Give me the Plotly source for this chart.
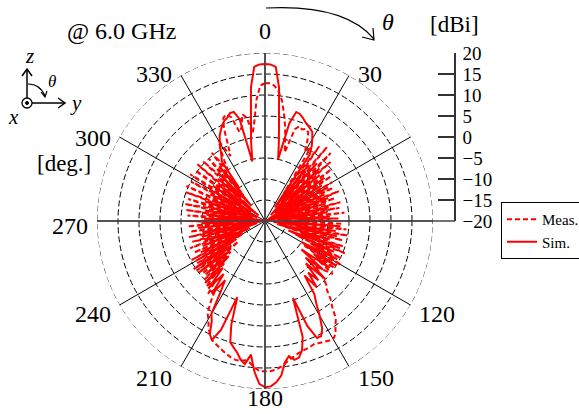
import math
import plotly.graph_objects as go

# ---------------- data ----------------
theta_deg = list(range(0, 360, 2))  # sample angles, deg (clockwise from +z)

sim_dbi = [
    17.4, 17.3, 16.8, 12.0, 4.0, -1.0, -5.0, 4.0, 7.0, 6.8,          # 0-18
    6.2, 5.5, 5.0, 4.5, 4.0, 2.5, 1.0, -1.0, -16.0, -3.0,            # 20-38
    -14.0, -1.5, -18.0, -2.0, -12.0, -3.0, -17.0, -2.5, -14.0, -4.0, # 40-58
    -19.0, -3.0, -15.0, -4.5, -18.0, -4.0, -13.0, -5.0, -20.0, -4.5, # 60-78
    -14.0, -5.0, -17.0, -4.5, -12.0, -5.0, -15.0, -2.0, -18.0, -3.0, # 80-98
    -12.0, -2.5, -17.0, -4.0, -11.0, -1.0, -14.0, -2.0, -8.0, -0.5,  # 100-118
    -10.0, 0.0, -6.0, -1.0, -9.0, -2.0, -7.0, 0.0, -6.0, -1.0,       # 120-138
    -4.0, 0.0, -4.0, 1.0, 3.0, 6.0, 9.0, 10.5, 10.5, 7.0,            # 140-158
    -0.5, 9.0, 12.0, 13.5, 13.8, 12.7, 14.0, 17.0, 18.5, 19.4,       # 160-178
    19.6, 18.8, 16.0, 12.0, 14.4, 13.5, 12.0, 11.0, 10.0, 6.0,       # 180-198
    -0.7, 8.0, 11.0, 10.0, 7.0, 5.5, 0.0, -3.0, 1.5, -4.0,           # 200-218
    1.0, -5.0, 0.5, -8.0, -1.0, -9.0, 0.0, -10.0, 0.5, -12.0,        # 220-238
    -1.0, -14.0, -3.0, -16.0, -4.0, -12.0, -5.0, -18.0, -4.5, -14.0, # 240-258
    -5.0, -19.0, -4.0, -13.0, -5.0, -17.0, -5.5, -14.0, -6.0, -20.0, # 260-278
    -5.5, -13.0, -6.0, -17.0, -5.0, -14.0, -6.5, -18.0, -5.5, -12.0, # 280-298
    -6.0, -16.0, -5.0, -13.0, -6.0, -18.0, -5.0, -12.0, -4.0, -15.0, # 300-318
    -3.0, -10.0, -2.5, -1.5, 0.0, 1.5, 3.0, 4.0, 5.0, 5.8,           # 320-338
    6.2, 7.0, 7.0, 5.0, -5.5, -1.0, 4.0, 12.0, 16.8, 17.3,           # 340-358
]

meas_dbi = [
    12.8, 12.8, 12.3, 11.0, 9.0, 6.0, 3.0, 0.0, -3.0, 3.0,           # 0-18
    4.0, 3.5, 4.0, 3.5, 1.5, -1.0, 0.5, -12.0, 2.0, -10.0,           # 20-38
    3.0, -14.0, 2.5, -8.0, 1.0, -15.0, 0.0, -10.0, -1.0, -16.0,      # 40-58
    -1.5, -9.0, -2.0, -14.0, -1.0, -11.0, -2.5, -17.0, -1.5, -10.0,  # 60-78
    -2.0, -15.0, -1.0, -12.0, -2.5, -16.0, -1.5, -9.0, -0.5, -14.0,  # 80-98
    0.0, -10.0, -1.0, -15.0, -0.5, -8.0, 0.5, -12.0, 0.0, -6.0,      # 100-118
    1.0, -9.0, 0.0, -5.0, 0.5, -2.0, -4.0, -1.0, 1.0, 2.0,           # 120-138
    4.3, 6.0, 8.7, 10.0, 11.7, 12.5, 12.3, 12.0, 11.8, 11.5,         # 140-158
    11.8, 12.0, 12.2, 12.5, 13.0, 13.5, 14.3, 15.0, 15.5, 15.8,      # 160-178
    15.8, 15.8, 15.0, 14.0, 13.5, 13.8, 13.8, 13.5, 13.0, 12.5,      # 180-198
    12.0, 11.5, 11.0, 10.0, 8.6, 7.0, 5.8, 3.0, 0.0, 2.0,            # 200-218
    -2.0, 1.0, -6.0, 0.0, -9.0, -0.5, -12.0, 0.0, -8.0, -1.0,        # 220-238
    -14.0, -0.2, -10.0, -1.5, -15.0, -1.0, -9.0, -2.0, -16.0, -1.5,  # 240-258
    -11.0, -2.0, -17.0, -1.5, -10.0, -2.0, -15.0, -1.5, -12.0, -1.0, # 260-278
    -16.0, -0.5, -9.0, -1.0, -14.0, 0.0, -11.0, 0.5, -16.0, 0.0,     # 280-298
    -8.0, 1.0, -13.0, 0.5, -10.0, 1.0, -15.0, 0.5, -7.0, 0.0,        # 300-318
    -12.0, 0.6, -5.0, -2.7, -0.2, 2.0, -2.5, 0.0, 4.0, 6.5,          # 320-338
    7.0, 6.0, 2.0, 3.0, 6.0, 5.0, 1.0, 4.0, 9.0, 12.3,               # 340-358
]

r_range = [-20, 20]
r_ticks = [-20, -15, -10, -5, 0, 5, 10, 15, 20]
ang_ticks = [0, 30, 60, 90, 120, 150, 180, 210, 240, 270, 300, 330]
ang_text = ["0", "30", "", "", "120", "150", "180", "210", "240", "270", "300", "330"]

# ---------------- layout geometry ----------------
W, H = 579, 414
CX, CY, R = 265, 221, 168          # polar centre / radius in px
SCALE_X = 455                      # px position of the dBi scale
SERIF = "Liberation Serif, Times New Roman, serif"
RED = "#ff0000"
GRID_DASH = "6px,3px"

fig = go.Figure()

# outer (20 dBi) dashed ring
ring_theta = theta_deg + [360]
fig.add_trace(go.Scatterpolar(
    r=[r_range[1]] * len(ring_theta), theta=ring_theta, mode="lines",
    line=dict(color="#222222", width=1, dash=GRID_DASH),
    showlegend=False, hoverinfo="skip",
))
fig.add_trace(go.Scatterpolar(
    r=meas_dbi + meas_dbi[:1], theta=theta_deg + theta_deg[:1], mode="lines",
    name="Meas.", line=dict(color=RED, width=2, dash="5px,3px"),
))
fig.add_trace(go.Scatterpolar(
    r=sim_dbi + sim_dbi[:1], theta=theta_deg + theta_deg[:1], mode="lines",
    name="Sim.", line=dict(color=RED, width=2),
))
# vertical 0-180 axis line
fig.add_trace(go.Scatterpolar(
    r=[r_range[1], r_range[0], r_range[1]], theta=[0, 0, 180], mode="lines",
    line=dict(color="#444444", width=1.6), showlegend=False, hoverinfo="skip",
))
# dummy trace so the dBi scale axis is drawn
fig.add_trace(go.Scatter(x=[None], y=[None], xaxis="x", yaxis="y2",
                         showlegend=False, hoverinfo="skip"))

fig.update_layout(
    width=W, height=H,
    margin=dict(l=0, r=0, t=0, b=0, autoexpand=False),
    paper_bgcolor="white", plot_bgcolor="rgba(0,0,0,0)",
    font=dict(family=SERIF, color="black", size=20),
    polar=dict(
        domain=dict(x=[(CX - R) / W, (CX + R) / W],
                    y=[(H - CY - R) / H, (H - CY + R) / H]),
        bgcolor="white",
        radialaxis=dict(range=r_range, tickvals=r_ticks, showticklabels=False,
                        angle=90, showline=False, ticks="",
                        gridcolor="black", gridwidth=1, griddash=GRID_DASH),
        angularaxis=dict(rotation=90, direction="clockwise",
                         tickvals=ang_ticks, showticklabels=False,
                         showline=False, ticks="",
                         gridcolor="black", gridwidth=1),
    ),
    xaxis=dict(domain=[0, 1], range=[0, W], visible=False, fixedrange=True),
    yaxis=dict(domain=[0, 1], range=[H, 0], visible=False, fixedrange=True),
    yaxis2=dict(domain=[(H - CY) / H, (H - CY + R) / H], range=r_range,
                tickvals=r_ticks, anchor="free", position=SCALE_X / W,
                side="right", ticks="inside", ticklen=16, tickcolor="#333333",
                tickwidth=1.5, showline=True, linecolor="#333333", linewidth=1.5,
                showgrid=False, zeroline=False, automargin=False,
                tickfont=dict(family=SERIF, size=19), ticklabelstandoff=3),
    legend=dict(x=501 / W, y=1 - 202 / H, xanchor="left", yanchor="top",
                bordercolor="black", borderwidth=1, bgcolor="white",
                font=dict(family=SERIF, size=15), itemwidth=30,
                tracegroupgap=0),
    showlegend=True,
)

# angular tick labels placed beside the spoke ends (as in the reference figure)
LAB_SIZE = 24
for ang, txt in zip(ang_ticks, ang_text):
    if not txt:
        continue
    s, c = math.sin(math.radians(ang)), math.cos(math.radians(ang))
    ex, ey = CX + R * s, CY - R * c
    half_w = 0.25 * LAB_SIZE * len(txt)
    if abs(s) < 0.1:                      # 0 and 180
        x, y = ex, ey + (-22 if c > 0 else 9)
    else:
        x = ex + (1 if s > 0 else -1) * (half_w + 9)
        y = ey + 5 - 8 * c
    fig.add_annotation(x=x, y=y, xref="x", yref="y", text=txt, showarrow=False,
                       font=dict(family=SERIF, size=LAB_SIZE, color="black"),
                       xanchor="center", yanchor="middle")

# horizontal 270-90 axis line extended to the scale
fig.add_shape(type="line", xref="x", yref="y", x0=CX - R, x1=SCALE_X, y0=CY, y1=CY,
              line=dict(color="#444444", width=1.6))

# theta arc arrow at the top
fig.add_shape(type="path", xref="x", yref="y",
              path="M 266 8 Q 345 4 374 39", line=dict(color="black", width=1.2))
fig.add_shape(type="path", xref="x", yref="y",
              path="M 362 37 L 374 40 L 373 28", line=dict(color="black", width=1.2))

# coordinate icon
fig.add_shape(type="line", xref="x", yref="y", x0=27, x1=27, y0=98, y1=70,
              line=dict(color="black", width=1.5))
fig.add_shape(type="path", xref="x", yref="y", path="M 22 76 L 27 69 L 32 76",
              line=dict(color="black", width=1.5))
fig.add_shape(type="line", xref="x", yref="y", x0=32, x1=64, y0=103, y1=103,
              line=dict(color="black", width=1.5))
fig.add_shape(type="path", xref="x", yref="y", path="M 58 98 L 65 103 L 58 108",
              line=dict(color="black", width=1.5))
fig.add_shape(type="circle", xref="x", yref="y", x0=22, x1=32, y0=98, y1=108,
              line=dict(color="black", width=1.3))
fig.add_shape(type="circle", xref="x", yref="y", x0=25.5, x1=28.5, y0=101.5, y1=104.5,
              line=dict(color="black", width=1), fillcolor="black")
fig.add_shape(type="path", xref="x", yref="y", path="M 28 84 Q 40 84 45 96",
              line=dict(color="black", width=1.2))
fig.add_shape(type="path", xref="x", yref="y", path="M 41 92 L 45 97 L 47 91",
              line=dict(color="black", width=1.2))

ann = [
    dict(x=121, y=31, text="@ 6.0 GHz", size=24),
    dict(x=388, y=22, text="<i>θ</i>", size=24),
    dict(x=454, y=24, text="[dBi]", size=23),
    dict(x=64, y=163, text="[deg.]", size=23),
    dict(x=29, y=56, text="<i>z</i>", size=21),
    dict(x=76, y=103, text="<i>y</i>", size=21),
    dict(x=13, y=117, text="<i>x</i>", size=21),
    dict(x=52, y=81, text="<i>θ</i>", size=17),
]
for a in ann:
    fig.add_annotation(x=a["x"], y=a["y"], xref="x", yref="y", text=a["text"],
                       showarrow=False, font=dict(family=SERIF, size=a["size"], color="black"),
                       xanchor="center", yanchor="middle")

fig.write_html("out.html")
